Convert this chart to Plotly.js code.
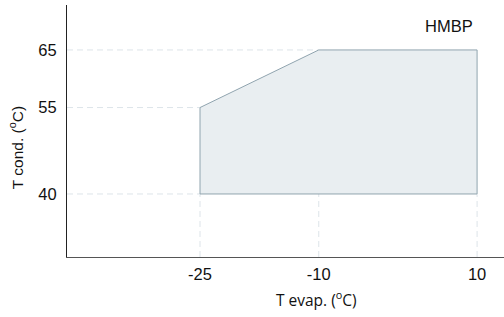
<!DOCTYPE html>
<html><head><meta charset="utf-8">
<script src="https://cdn.plot.ly/plotly-3.0.1.min.js"></script>
<style>html,body{margin:0;padding:0;background:#fff}</style>
</head><body>
<div id="chart" style="width:504px;height:317px"></div>
<script>
const evapTemps = [-25, -25, -10, 10, 10, -25];
const condTemps = [40, 55, 65, 65, 40, 40];
const xTicks = [-25, -10, 10];
const xTickText = ['-25', '-10', '10'];
const yTicks = [40, 55, 65];
const seriesName = 'HMBP';

const xMin = -41.8, yMin = 29.06;
const guideColor = '#dde4e9';
const traces = [];
[[40, -25], [55, -25], [65, -10]].forEach(([yv, xv]) => {
  traces.push({x: [xMin, xv], y: [yv, yv], type: 'scatter', mode: 'lines',
    line: {color: guideColor, width: 1, dash: '6px,4px'}, hoverinfo: 'skip', showlegend: false});
});
xTicks.forEach(xv => {
  traces.push({x: [xv, xv], y: [yMin, 40], type: 'scatter', mode: 'lines',
    line: {color: guideColor, width: 1, dash: '6px,4px'}, hoverinfo: 'skip', showlegend: false});
});
traces.push({
  x: evapTemps, y: condTemps, type: 'scatter', mode: 'lines',
  fill: 'toself', fillcolor: '#e9eef1',
  line: {color: '#90a4af', width: 1},
  hoverinfo: 'skip', showlegend: false
});
const layout = {
  width: 504, height: 317,
  margin: {l: 67, r: 0, t: 5, b: 60},
  paper_bgcolor: '#fff', plot_bgcolor: '#fff',
  font: {family: 'Liberation Sans, Arial, sans-serif', size: 16, color: '#111'},
  xaxis: {
    range: [xMin, 13.4], tickvals: xTicks, ticktext: xTickText, ticks: '', showline: true,
    linecolor: '#555', linewidth: 1, zeroline: false, showgrid: false,
    tickfont: {size: 16.5}, ticklabelstandoff: 2
  },
  yaxis: {
    range: [yMin, 72.8], tickvals: yTicks, ticks: '', showline: true,
    linecolor: '#222', linewidth: 1, zeroline: false, showgrid: false,
    tickfont: {size: 16.5}, ticklabelstandoff: 6
  },
  annotations: [
    {text: seriesName, xref: 'paper', yref: 'paper', x: 0.875, y: 0.915,
     xanchor: 'center', yanchor: 'middle', showarrow: false,
     font: {size: 16.5, family: 'Liberation Sans, Arial, sans-serif', color: '#111'}},
    {text: 'T evap. (<sup>o</sup>C)', xref: 'paper', yref: 'paper', x: 0.57, y: -0.165,
     xanchor: 'center', yanchor: 'middle', showarrow: false,
     font: {size: 15.5, family: 'Open Sans, sans-serif', color: '#111'}},
    {text: 'T cond. (<sup>o</sup>C)', xref: 'paper', yref: 'paper', x: -0.115, y: 0.435,
     xanchor: 'center', yanchor: 'middle', showarrow: false, textangle: -90,
     font: {size: 15.5, family: 'Liberation Sans, Arial, sans-serif', color: '#111'}}
  ]
};
Plotly.newPlot('chart', traces, layout, {displayModeBar: false, staticPlot: true});
</script>
</body></html>
